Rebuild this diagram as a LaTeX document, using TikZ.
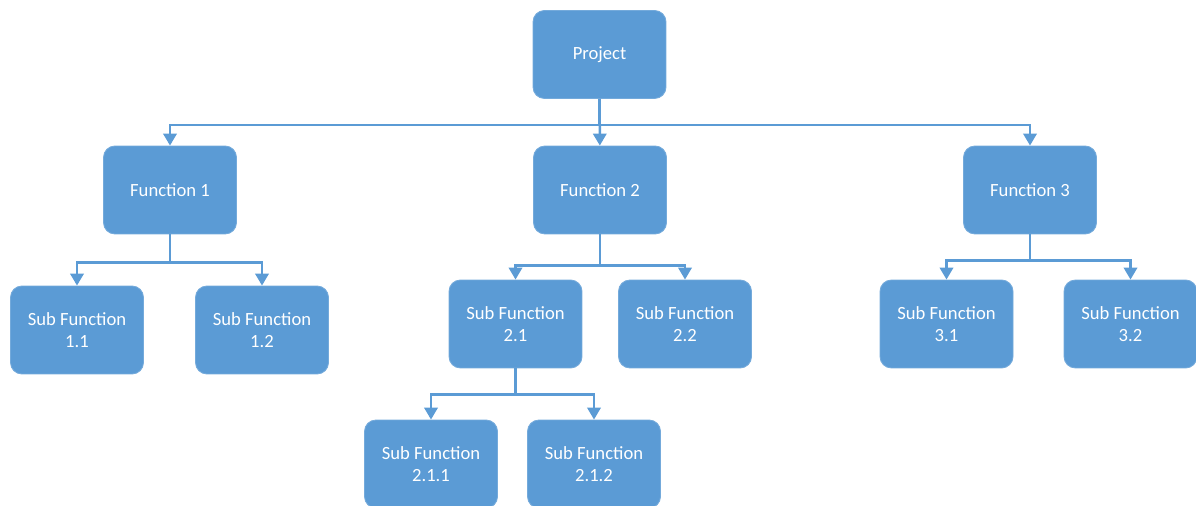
\documentclass[tikz,border=0pt]{standalone}
\usepackage{fontspec}
\setmainfont{Carlito}
\usetikzlibrary{arrows.meta}
\definecolor{boxblue}{HTML}{5B9BD5}
\definecolor{lineblue}{HTML}{5B9BD5}
\begin{document}
\begin{tikzpicture}[x=0.02cm,y=-0.02cm,>={Triangle[length=6.8pt,width=7.6pt]},
    box/.style={draw=boxblue!85!white,fill=boxblue,rounded corners=6.5pt,
      minimum width=2.66cm,minimum height=1.76cm,align=center,text=white,
      font=\fontsize{10.6}{12.5}\selectfont,line width=0.5pt},
    link/.style={draw=lineblue,line width=1.4pt,->}]
    \useasboundingbox (0,0) rectangle (1196,506);
    % top level
    \node[box] (proj) at (599.5,54.5) {Project};
    \node[box] (fone) at (170,190) {Function 1};
    \node[box] (ftwo) at (600,190) {Function 2};
    \node[box] (fthree) at (1030,190) {Function 3};
    % sub functions
    \node[box] (sone) at (77,330) {Sub Function\\1.1};
    \node[box] (stwo) at (262,330) {Sub Function\\1.2};
    \node[box] (sthree) at (515.5,324) {Sub Function\\2.1};
    \node[box] (sfour) at (685,324) {Sub Function\\2.2};
    \node[box] (sfive) at (946.5,324) {Sub Function\\3.1};
    \node[box] (ssix) at (1130.5,324) {Sub Function\\3.2};
    \node[box] (sseven) at (431,464) {Sub Function\\2.1.1};
    \node[box] (seight) at (594,464) {Sub Function\\2.1.2};
    % connectors
    \draw[link] (proj) -- (ftwo);
    \draw[link] (proj.south) -- ++(0,26) -| (fone.north);
    \draw[link] (proj.south) -- ++(0,26) -| (fthree.north);
    \draw[link] (fone.south) -- ++(0,28) -| (sone.north);
    \draw[link] (fone.south) -- ++(0,28) -| (stwo.north);
    \draw[link] (ftwo.south) -- ++(0,31) -| (sthree.north);
    \draw[link] (ftwo.south) -- ++(0,31) -| (sfour.north);
    \draw[link] (fthree.south) -- ++(0,26) -| (sfive.north);
    \draw[link] (fthree.south) -- ++(0,26) -| (ssix.north);
    \draw[link] (sthree.south) -- ++(0,26) -| (sseven.north);
    \draw[link] (sthree.south) -- ++(0,26) -| (seight.north);
\end{tikzpicture}
\end{document}
